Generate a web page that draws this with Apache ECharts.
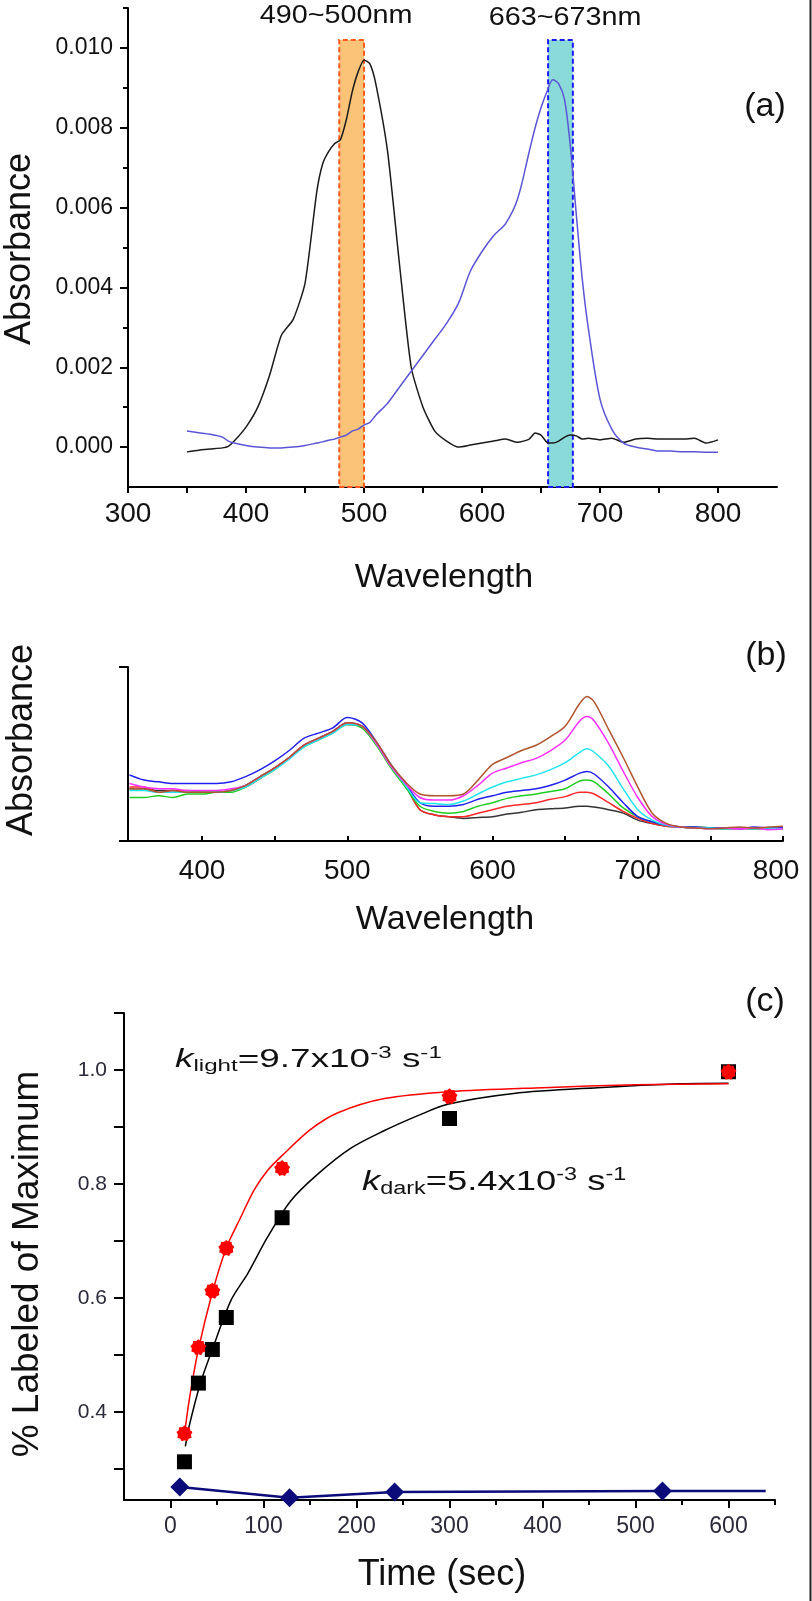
<!DOCTYPE html>
<html><head><meta charset="utf-8">
<script src="https://cdn.jsdelivr.net/npm/echarts@6/dist/echarts.min.js"></script>
<style>html,body{margin:0;padding:0;background:#fff}#c{width:812px;height:1601px}</style>
</head><body><div id="c"></div>
<script>
// ---------- Panel (a) ----------
const wlA = [350,360,370,380,385,390,400,410,420,430,440,450,460,465,470,475,480,485,490,495,500,505,510,520,530,540,550,560,570,580,590,600,610,620,630,640,645,650,655,660,665,670,675,680,685,690,700,710,720,730,740,750,760,770,780,790,800];
const absBlack = [-0.00012,-0.00008,-0.00005,-0.00002,0.00002,0.00015,0.0005,0.001,0.0018,0.0028,0.0032,0.0041,0.0064,0.0071,0.0074,0.0076,0.0077,0.0082,0.0089,0.0094,0.0097,0.0096,0.0091,0.0074,0.0046,0.002,0.001,0.0004,0.00015,0.0,0.00005,0.0001,0.00015,0.0002,0.00012,0.0002,0.00035,0.0003,0.00012,0.0001,0.00015,0.00025,0.0003,0.00028,0.0002,0.00022,0.00018,0.00022,0.00012,0.0002,0.00022,0.0002,0.0002,0.0002,0.00022,0.0001,0.00018];
const absBlue = [0.0004,0.00036,0.00032,0.00025,0.00015,0.0001,0.00004,0.0,-0.00002,-0.00002,0.0,0.00004,0.0001,0.00013,0.00017,0.0002,0.00025,0.0003,0.0004,0.00045,0.00055,0.00062,0.0008,0.0011,0.0015,0.0019,0.0023,0.0027,0.0031,0.0036,0.0044,0.0049,0.0053,0.0056,0.0062,0.0074,0.008,0.0085,0.0089,0.0092,0.0091,0.0087,0.0075,0.0058,0.0042,0.003,0.0012,0.00045,0.0001,0.0,-0.00005,-0.0001,-0.0001,-0.00012,-0.00012,-0.00013,-0.00013];
const bandOrange = [479, 500];
const bandCyan = [656, 677];
const bandTop = 0.0102;
const xLabelsA = [300,400,500,600,700,800];
const xTicksA = [300,350,400,450,500,550,600,650,700,750,800];
const yLabelsA = [0,0.002,0.004,0.006,0.008,0.010];
const yMinorA = [0.001,0.003,0.005,0.007,0.009,0.011];

// ---------- Panel (b) ----------
const wlB = [350,360,370,380,390,400,410,420,430,440,450,460,470,480,490,500,510,520,530,540,550,560,570,580,590,600,610,620,630,640,650,660,665,670,680,690,700,710,720,730,740,750,760,770,780,790,800];
const bBlack   = [.30,.30,.29,.29,.28,.28,.28,.29,.32,.37,.42,.48,.55,.59,.63,.68,.66,.56,.43,.32,.18,.15,.14,.13,.135,.14,.155,.165,.18,.185,.19,.20,.20,.195,.18,.16,.12,.10,.085,.08,.075,.075,.07,.075,.07,.075,.07];
const bRed     = [.31,.31,.28,.29,.29,.28,.28,.29,.31,.36,.42,.48,.55,.58,.63,.67,.66,.56,.43,.32,.18,.15,.14,.14,.16,.18,.20,.21,.22,.24,.255,.28,.28,.27,.22,.17,.13,.10,.085,.08,.075,.075,.075,.07,.075,.07,.075];
const bGreen   = [.25,.25,.26,.25,.27,.27,.28,.28,.31,.36,.41,.48,.54,.58,.62,.67,.65,.55,.42,.31,.20,.17,.16,.17,.20,.22,.245,.26,.27,.285,.30,.345,.35,.34,.27,.19,.14,.11,.09,.08,.08,.075,.07,.075,.07,.075,.07];
const bBlue    = [.38,.35,.34,.33,.33,.33,.33,.34,.37,.41,.46,.52,.59,.62,.65,.71,.68,.57,.44,.33,.22,.20,.20,.21,.24,.26,.28,.29,.30,.32,.35,.39,.40,.385,.31,.22,.14,.11,.09,.08,.08,.075,.075,.07,.08,.075,.08];
const bCyan    = [.29,.29,.28,.28,.28,.28,.28,.29,.31,.36,.41,.47,.54,.58,.62,.67,.66,.56,.43,.32,.22,.215,.21,.23,.27,.31,.34,.36,.38,.41,.45,.51,.53,.51,.43,.30,.18,.12,.09,.08,.075,.075,.07,.075,.07,.075,.07];
const bMagenta = [.33,.31,.30,.30,.29,.29,.29,.30,.32,.37,.42,.48,.55,.59,.63,.68,.66,.56,.43,.33,.25,.235,.235,.26,.32,.39,.42,.45,.475,.52,.58,.69,.715,.69,.56,.40,.25,.14,.095,.08,.075,.07,.075,.07,.075,.065,.07];
const bBrown   = [.30,.30,.28,.29,.28,.28,.28,.29,.32,.37,.42,.48,.55,.59,.63,.68,.66,.57,.44,.34,.27,.26,.26,.27,.35,.44,.48,.52,.55,.60,.66,.79,.83,.80,.64,.48,.31,.16,.10,.08,.075,.07,.075,.08,.075,.08,.085];
const xLabelsB = [400,500,600,700,800];
const xTicksB = [400,450,500,550,600,650,700,750,800];

// ---------- Panel (c) ----------
const timeC = [15,30,45,60,120,300,600];
const darkC = [0.313,0.451,0.510,0.566,0.741,0.915,0.997];
const lightC = [0.363,0.514,0.613,0.688,0.828,0.954,0.997];
const lightFitT = [15,20,30,45,60,75,90,105,120,150,180,230,300,400,500,600];
const lightFitV = [0.36,0.42,0.51,0.61,0.688,0.74,0.79,0.825,0.85,0.895,0.925,0.95,0.962,0.969,0.974,0.976];
const darkFitT = [16,20,32,45,65,83,104,129,158,194,229,266,298,369,459,548,600];
const darkFitV = [0.34,0.375,0.45,0.51,0.596,0.643,0.706,0.77,0.817,0.863,0.893,0.92,0.94,0.959,0.969,0.976,0.977];
const ctrlT = [10,128,241,529,640];
const ctrlV = [0.269,0.250,0.260,0.262,0.262];
const ctrlMarked = 4;
const xLabelsC = [0,100,200,300,400,500,600];
const xMinorC = [50,150,250,350,450,550,650];
const yLabelsC = [0.4,0.6,0.8,1.0];
const yTicksC = [0.3,0.4,0.5,0.6,0.7,0.8,0.9,1.0,1.1];

// ---------- chart ----------
const FF = "'Liberation Sans', Arial, sans-serif";
const pair = (xs, ys) => xs.map((x, i) => [x, ys[i]]);

function starPath(n, r1, r2) {
  let s = 'path://';
  for (let i = 0; i < 2 * n; i++) {
    const a = Math.PI * i / n - Math.PI / 2;
    const r = i % 2 ? r2 : r1;
    s += (i ? 'L' : 'M') + (50 + 50 * r * Math.cos(a)).toFixed(2) + ',' + (50 + 50 * r * Math.sin(a)).toFixed(2);
  }
  return s + 'Z';
}

const axLine = {onZero: false, lineStyle: {color: '#000', width: 2}};
const tickStyle = {color: '#000', width: 2};
const txt = (x, y, text, fontSize, extra) => Object.assign({type: 'text', x: x, y: y, style: {
  text: text, fontSize: fontSize, fontFamily: FF, fill: '#111',
  align: 'center', verticalAlign: 'middle', textAlign: 'center', textVerticalAlign: 'middle'}}, extra || {});

const chart = echarts.init(document.getElementById('c'), null, {renderer: 'canvas'});

const option = {
  backgroundColor: '#fff',
  animation: false,
  grid: [
    {left: 128, right: 35, top: 8, height: 479, outerBoundsMode: 'none'},
    {left: 128, right: 29, top: 667, height: 174, outerBoundsMode: 'none'},
    {left: 124, right: 37, top: 1013, height: 487, outerBoundsMode: 'none'}
  ],
  xAxis: [
    {gridIndex: 0, type: 'value', position: 'bottom', min: 300, max: 850, axisLine: axLine,
     axisTick: {customValues: xTicksA, length: 6, lineStyle: tickStyle},
     axisLabel: {customValues: xLabelsA, fontSize: 28, margin: 13, color: '#111', fontFamily: FF},
     splitLine: {show: false}},
    {gridIndex: 1, type: 'value', position: 'bottom', min: 349, max: 800, axisLine: axLine,
     axisTick: {customValues: xTicksB, length: 5, inside: true, lineStyle: tickStyle},
     axisLabel: {customValues: xLabelsB, fontSize: 28, margin: 16, color: '#111', fontFamily: FF,
       formatter: v => v === 800 ? '{r|800}' : String(v),
       rich: {r: {fontSize: 28, fontFamily: FF, color: '#111', padding: [0, 14, 0, 0]}}},
     splitLine: {show: false}},
    {gridIndex: 2, type: 'value', position: 'bottom', min: -50, max: 650, axisLine: axLine,
     axisTick: {customValues: xLabelsC, length: 8, lineStyle: tickStyle},
     axisLabel: {customValues: xLabelsC, fontSize: 23, margin: 15, color: '#2a2a3a', fontFamily: FF},
     splitLine: {show: false}},
    {gridIndex: 2, type: 'value', position: 'bottom', min: -50, max: 650, axisLine: {show: false, onZero: false},
     axisTick: {customValues: xMinorC, length: 5, lineStyle: tickStyle},
     axisLabel: {show: false}, splitLine: {show: false}}
  ],
  yAxis: [
    {gridIndex: 0, type: 'value', position: 'left', min: -0.001, max: 0.011, axisLine: {show: true, onZero: false, lineStyle: {color: '#000', width: 2}},
     axisTick: {show: true, customValues: yLabelsA, length: 8, lineStyle: tickStyle},
     axisLabel: {customValues: yLabelsA, formatter: v => v.toFixed(3), fontSize: 23, margin: 15, color: '#111', fontFamily: FF},
     splitLine: {show: false}},
    {gridIndex: 0, type: 'value', position: 'left', min: -0.001, max: 0.011, axisLine: {show: false, onZero: false},
     axisTick: {show: true, customValues: yMinorA, length: 5, lineStyle: tickStyle},
     axisLabel: {show: false}, splitLine: {show: false}},
    {gridIndex: 1, type: 'value', position: 'left', min: 0, max: 1, axisLine: {show: true, onZero: false, lineStyle: {color: '#000', width: 2}},
     axisTick: {show: true, customValues: [0, 1], length: 9, lineStyle: tickStyle},
     axisLabel: {show: false}, splitLine: {show: false}},
    {gridIndex: 2, type: 'value', position: 'left', min: 0.246, max: 1.1, axisLine: {show: true, onZero: false, lineStyle: {color: '#000', width: 2}},
     axisTick: {show: true, customValues: yTicksC, length: 10, lineStyle: tickStyle},
     axisLabel: {customValues: yLabelsC, formatter: v => v.toFixed(1), fontSize: 21, margin: 17, color: '#2a2a3a', fontFamily: FF},
     splitLine: {show: false}}
  ],
  series: [
    // panel a
    {type: 'line', xAxisIndex: 0, yAxisIndex: 0, data: pair(wlA, absBlack), showSymbol: false, smooth: 0.2,
     lineStyle: {color: '#1a1a1a', width: 1.5}, z: 2},
    {type: 'line', xAxisIndex: 0, yAxisIndex: 0, data: pair(wlA, absBlue), showSymbol: false, smooth: 0.3,
     lineStyle: {color: '#5b55d6', width: 1.5}, z: 2},
    {type: 'line', xAxisIndex: 0, yAxisIndex: 0, data: [], z: 5, silent: true,
     markArea: {silent: true, data: [
       [{xAxis: bandOrange[0], yAxis: -0.001, itemStyle: {color: 'rgba(249,184,95,0.85)', borderColor: '#ff5a1e', borderWidth: 2, borderType: [5, 3]}},
        {xAxis: bandOrange[1], yAxis: bandTop}],
       [{xAxis: bandCyan[0], yAxis: -0.001, itemStyle: {color: 'rgba(118,212,212,0.85)', borderColor: '#1a1aff', borderWidth: 2, borderType: [5, 3]}},
        {xAxis: bandCyan[1], yAxis: bandTop}]
     ]}},
    // panel b
    ...[[bBlack,'#333333'],[bRed,'#ff2a2a'],[bGreen,'#22cc22'],[bBlue,'#2020ee'],[bCyan,'#22e4f0'],[bMagenta,'#ff30ff'],[bBrown,'#b0552e']].map(([d,c]) => ({
      type: 'line', xAxisIndex: 1, yAxisIndex: 2, data: pair(wlB, d), showSymbol: false, smooth: 0.3,
      lineStyle: {color: c, width: 1.5}})),
    // panel c
    {type: 'line', xAxisIndex: 2, yAxisIndex: 3, data: pair(darkFitT, darkFitV), showSymbol: false, smooth: 0.3,
     lineStyle: {color: '#000', width: 1.5}},
    {type: 'line', xAxisIndex: 2, yAxisIndex: 3, data: pair(lightFitT, lightFitV), showSymbol: false, smooth: 0.3,
     lineStyle: {color: '#ff0000', width: 1.5}},
    {type: 'scatter', xAxisIndex: 2, yAxisIndex: 3, data: pair(timeC, darkC), symbol: 'rect', symbolSize: 15,
     itemStyle: {color: '#000', opacity: 1}, z: 4},
    {type: 'scatter', xAxisIndex: 2, yAxisIndex: 3, data: pair(timeC, lightC), symbol: starPath(9, 1, 0.82), symbolSize: 16,
     itemStyle: {color: '#ff0000', opacity: 1}, z: 5},
    {type: 'line', xAxisIndex: 2, yAxisIndex: 3, data: pair(ctrlT, ctrlV), symbol: 'diamond',
     symbolSize: (v, p) => p.dataIndex < ctrlMarked ? 19 : 0, showAllSymbol: true,
     lineStyle: {color: '#0b0b7a', width: 2.5}, itemStyle: {color: '#0b0b7a', opacity: 1}, z: 4}
  ],
  graphic: [
    {type: 'line', shape: {x1: 810.5, y1: 0, x2: 810.5, y2: 1601}, style: {stroke: '#222', lineWidth: 2}},
    txt(336, 16, '490~500nm', 25, {scaleX: 1.15}),
    txt(565, 18, '663~673nm', 25, {scaleX: 1.15}),
    txt(765, 107, '(a)', 34),
    txt(766, 656, '(b)', 34),
    txt(765, 1002, '(c)', 34),
    txt(20, 249, 'Absorbance', 36, {rotation: Math.PI / 2}),
    txt(444, 578, 'Wavelength', 34),
    txt(22, 740, 'Absorbance', 36, {rotation: Math.PI / 2}),
    txt(445, 920, 'Wavelength', 34),
    txt(28, 1264, '% Labeled of Maximum', 37, {rotation: Math.PI / 2}),
    txt(442, 1575, 'Time (sec)', 36),
    {type: 'text', x: 175, y: 1060, scaleX: 1.42, style: {
      text: '{k|k}{sub|light}{n|=9.7x10}{sup|-3}{n| s}{sup|-1}', fill: '#111', fontFamily: FF,
      align: 'left', verticalAlign: 'middle', textAlign: 'left', textVerticalAlign: 'middle',
      rich: {
        k: {fontSize: 26, lineHeight: 30, fontStyle: 'italic', fontFamily: FF, fill: '#111'},
        n: {fontSize: 26, lineHeight: 30, fontFamily: FF, fill: '#111'},
        sub: {fontSize: 17, lineHeight: 17, verticalAlign: 'bottom', fontFamily: FF, fill: '#111'},
        sup: {fontSize: 17, lineHeight: 17, verticalAlign: 'top', fontFamily: FF, fill: '#111'}
      }}},
    {type: 'text', x: 362, y: 1182, scaleX: 1.3, style: {
      text: '{k|k}{sub|dark}{n|=5.4x10}{sup|-3}{n| s}{sup|-1}', fill: '#111', fontFamily: FF,
      align: 'left', verticalAlign: 'middle', textAlign: 'left', textVerticalAlign: 'middle',
      rich: {
        k: {fontSize: 28, lineHeight: 32, fontStyle: 'italic', fontFamily: FF, fill: '#111'},
        n: {fontSize: 28, lineHeight: 32, fontFamily: FF, fill: '#111'},
        sub: {fontSize: 18, lineHeight: 18, verticalAlign: 'bottom', fontFamily: FF, fill: '#111'},
        sup: {fontSize: 18, lineHeight: 18, verticalAlign: 'top', fontFamily: FF, fill: '#111'}
      }}}
  ]
};
chart.setOption(option);
</script></body></html>
